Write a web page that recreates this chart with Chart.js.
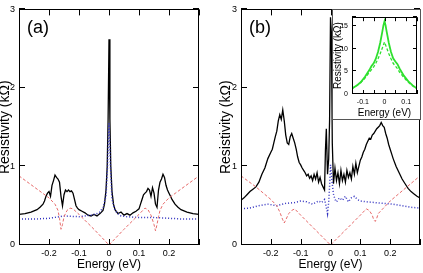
<!DOCTYPE html>
<html>
<head>
<meta charset="utf-8">
<script src="https://cdn.jsdelivr.net/npm/chart.js@4.4.1/dist/chart.umd.min.js"></script>
<style>
  html, body { margin: 0; padding: 0; background: #fff; }
  body { width: 423px; height: 273px; position: relative; overflow: hidden; }
  .box { position: absolute; }
</style>
</head>
<body>
<div class="box" style="left:-3px;top:0;width:215px;height:273px"><canvas id="ca" width="215" height="273"></canvas></div>
<div class="box" style="left:212px;top:0;width:211px;height:273px"><canvas id="cb" width="211" height="273"></canvas></div>
<div class="box" style="left:332px;top:9px;width:89px;height:111px"><canvas id="ci" width="89" height="111"></canvas></div>
<script>
// ---------- Panel (a) ----------
const energyA_total = [-0.30,-0.28,-0.26,-0.24,-0.23,-0.22,-0.215,-0.21,-0.205,-0.20,-0.195,-0.19,-0.185,-0.18,-0.175,-0.17,-0.165,-0.16,-0.155,-0.15,-0.145,-0.14,-0.135,-0.13,-0.125,-0.12,-0.115,-0.11,-0.105,-0.10,-0.09,-0.08,-0.07,-0.06,-0.05,-0.04,-0.03,-0.02,-0.015,-0.01,-0.006,-0.003,0,0.003,0.006,0.01,0.015,0.02,0.03,0.04,0.05,0.06,0.07,0.08,0.09,0.10,0.105,0.11,0.115,0.12,0.125,0.13,0.135,0.14,0.145,0.15,0.155,0.16,0.165,0.17,0.175,0.18,0.185,0.19,0.195,0.20,0.205,0.21,0.22,0.23,0.24,0.26,0.28,0.30];
const resA_total = [0.39,0.40,0.42,0.45,0.48,0.52,0.56,0.62,0.66,0.68,0.62,0.76,0.82,0.89,0.86,0.84,0.80,0.62,0.50,0.64,0.70,0.68,0.70,0.68,0.69,0.66,0.58,0.50,0.47,0.45,0.43,0.41,0.38,0.37,0.39,0.37,0.40,0.44,0.52,0.70,1.00,1.60,2.62,1.60,1.00,0.68,0.52,0.45,0.40,0.42,0.38,0.40,0.38,0.41,0.43,0.46,0.52,0.58,0.64,0.66,0.68,0.72,0.70,0.62,0.73,0.66,0.52,0.48,0.70,0.80,0.84,0.90,0.86,0.76,0.70,0.66,0.62,0.58,0.52,0.48,0.45,0.42,0.40,0.39];

const energyA_red = [-0.30,-0.25,-0.20,-0.19,-0.18,-0.17,-0.165,-0.16,-0.155,-0.15,-0.14,-0.13,-0.12,-0.10,-0.05,0,0.05,0.10,0.12,0.13,0.14,0.15,0.155,0.16,0.165,0.17,0.18,0.19,0.20,0.25,0.30];
const resA_red = [0.88,0.74,0.60,0.56,0.52,0.44,0.34,0.20,0.26,0.36,0.44,0.47,0.46,0.39,0.20,0.0,0.20,0.39,0.47,0.45,0.38,0.26,0.18,0.26,0.36,0.44,0.52,0.56,0.60,0.74,0.88];

const energyA_blue = [-0.30,-0.25,-0.20,-0.15,-0.10,-0.06,-0.04,-0.03,-0.02,-0.01,-0.005,0,0.005,0.01,0.02,0.03,0.04,0.06,0.10,0.15,0.20,0.25,0.30];
const resA_blue = [0.33,0.33,0.34,0.37,0.36,0.38,0.40,0.42,0.48,0.62,1.00,1.55,1.00,0.58,0.44,0.40,0.37,0.36,0.35,0.35,0.34,0.33,0.33];

// ---------- Panel (b) ----------
const energyB_total = [-0.30,-0.29,-0.28,-0.27,-0.26,-0.25,-0.24,-0.23,-0.22,-0.21,-0.20,-0.195,-0.19,-0.185,-0.18,-0.175,-0.17,-0.165,-0.16,-0.155,-0.15,-0.145,-0.14,-0.135,-0.13,-0.125,-0.12,-0.115,-0.11,-0.105,-0.10,-0.095,-0.09,-0.085,-0.08,-0.075,-0.07,-0.065,-0.06,-0.055,-0.05,-0.045,-0.04,-0.035,-0.03,-0.025,-0.02,-0.017,-0.014,-0.01,-0.006,-0.003,0,0.003,0.006,0.01,0.015,0.02,0.025,0.03,0.035,0.04,0.045,0.05,0.055,0.06,0.065,0.07,0.075,0.08,0.085,0.09,0.095,0.10,0.105,0.11,0.115,0.12,0.125,0.13,0.135,0.14,0.145,0.15,0.155,0.16,0.165,0.17,0.175,0.18,0.185,0.19,0.195,0.20,0.205,0.21,0.22,0.23,0.24,0.25,0.26,0.27,0.28,0.29,0.30];
const resB_total = [0.57,0.60,0.64,0.68,0.71,0.74,0.80,0.90,0.98,1.10,1.18,1.22,1.30,1.38,1.45,1.58,1.66,1.60,1.72,1.58,1.40,1.30,1.28,1.38,1.42,1.36,1.30,1.22,1.12,1.05,1.02,0.98,0.95,0.92,0.88,0.90,0.85,0.88,0.82,0.90,0.84,0.92,0.80,0.86,0.78,0.74,0.70,1.20,1.48,0.90,1.10,1.60,2.90,2.70,1.30,0.78,0.98,0.82,0.92,0.78,0.95,0.82,0.90,0.80,0.95,0.86,0.92,0.84,1.00,0.90,1.04,0.92,1.00,1.08,1.12,1.18,1.22,1.28,1.32,1.36,1.35,1.40,1.42,1.45,1.48,1.50,1.52,1.56,1.52,1.50,1.42,1.36,1.28,1.22,1.16,1.10,1.00,0.92,0.84,0.78,0.72,0.68,0.65,0.62,0.60];

const energyB_red = [-0.30,-0.25,-0.20,-0.18,-0.17,-0.16,-0.155,-0.15,-0.14,-0.13,-0.12,-0.10,-0.05,0,0.05,0.10,0.12,0.13,0.14,0.145,0.15,0.155,0.16,0.17,0.18,0.20,0.25,0.30];
const resB_red = [0.88,0.74,0.58,0.50,0.42,0.32,0.28,0.32,0.40,0.44,0.46,0.38,0.19,0.0,0.19,0.38,0.46,0.44,0.38,0.32,0.30,0.34,0.40,0.44,0.48,0.56,0.72,0.88];

const energyB_blue = [-0.30,-0.27,-0.24,-0.21,-0.18,-0.15,-0.12,-0.10,-0.08,-0.06,-0.04,-0.03,-0.02,-0.015,-0.01,-0.006,-0.003,0,0.003,0.006,0.01,0.015,0.02,0.03,0.04,0.05,0.06,0.07,0.08,0.09,0.10,0.12,0.15,0.18,0.21,0.24,0.27,0.30];
const resB_blue = [0.46,0.47,0.50,0.52,0.50,0.53,0.54,0.56,0.55,0.52,0.56,0.54,0.58,0.50,0.40,0.55,0.75,1.02,0.90,0.78,0.65,0.58,0.55,0.60,0.57,0.62,0.55,0.60,0.62,0.58,0.56,0.55,0.54,0.53,0.52,0.50,0.48,0.47];

// ---------- Inset ----------
const energyIn_solid = [-0.15,-0.13,-0.11,-0.09,-0.07,-0.06,-0.05,-0.04,-0.03,-0.02,-0.01,-0.005,0,0.005,0.01,0.02,0.03,0.04,0.05,0.06,0.07,0.09,0.11,0.13,0.15];
const resIn_solid = [1.2,1.8,2.6,3.8,5.3,6.2,6.8,7.8,9.3,11.3,13.8,15.2,16.1,15.2,13.8,11.3,9.3,7.9,7.2,6.6,5.6,4.0,2.8,1.9,1.2];
const energyIn_dash = [-0.15,-0.13,-0.11,-0.09,-0.07,-0.06,-0.05,-0.04,-0.03,-0.02,-0.01,0,0.01,0.02,0.03,0.04,0.05,0.06,0.07,0.09,0.11,0.13,0.15];
const resIn_dash = [1.2,1.8,2.5,3.5,4.8,5.4,6.0,6.8,7.8,8.9,10.2,11.5,10.2,8.9,7.8,6.8,6.2,5.6,4.8,3.6,2.6,1.8,1.2];

// axis ticks / labels
const mainXTicks = [-0.2, -0.1, 0, 0.1, 0.2];
const mainYTicks = [0, 1, 2, 3];
const insetXTicks = [-0.1, 0, 0.1];
const insetYTicks = [0, 5, 10, 15];
const xTitle = 'Energy (eV)';
const yTitle = 'Resistivity (kΩ)';

const FONT = "'Liberation Sans', Arial, Helvetica, sans-serif";
const pts = (xs, ys) => xs.map((x, i) => ({x: x, y: ys[i]}));
const near = (v, arr) => arr.some(a => Math.abs(a - v) < 1e-6);
const fmt = v => { const r = Math.round(v * 100) / 100; return r === 0 ? '0' : String(r); };

function frameTicks(tl, label) {
  return {
    id: 'frameTicks',
    afterDraw(chart) {
      const ctx = chart.ctx, a = chart.chartArea;
      ctx.save();
      ctx.strokeStyle = '#000';
      ctx.lineWidth = 1;
      ctx.strokeRect(Math.round(a.left) + 0.5, Math.round(a.top) + 0.5, Math.round(a.right - a.left) - 1, Math.round(a.bottom - a.top) - 1);
      ctx.beginPath();
      chart.scales.x.ticks.forEach(t => {
        const p = Math.round(chart.scales.x.getPixelForValue(t.value)) + 0.5;
        ctx.moveTo(p, a.bottom); ctx.lineTo(p, a.bottom - tl);
        ctx.moveTo(p, a.top); ctx.lineTo(p, a.top + tl);
      });
      chart.scales.y.ticks.forEach(t => {
        const p = Math.round(chart.scales.y.getPixelForValue(t.value)) - 0.5;
        ctx.moveTo(a.left, p); ctx.lineTo(a.left + tl, p);
        ctx.moveTo(a.right, p); ctx.lineTo(a.right - tl, p);
      });
      ctx.stroke();
      if (label) {
        ctx.fillStyle = '#000';
        ctx.font = '18px ' + FONT;
        ctx.textAlign = 'left';
        ctx.textBaseline = 'middle';
        ctx.fillText(label, a.left + 8, a.top + 19);
      }
      ctx.restore();
    }
  };
}

function mainChart(id, label, total, red, blue, yWidth, titlePad, padRight) {
  return new Chart(document.getElementById(id), {
    type: 'line',
    data: {
      datasets: [
        { data: red, borderColor: '#e66a6a', borderWidth: 1, borderDash: [3, 2], pointRadius: 0, fill: false },
        { data: blue, borderColor: '#3232c0', borderWidth: 1.5, borderDash: [1, 2], pointRadius: 0, fill: false },
        { data: total, borderColor: '#000', borderWidth: 1.3, pointRadius: 0, fill: false }
      ]
    },
    options: {
      responsive: false, animation: false, devicePixelRatio: 1,
      layout: { padding: { left: 0, right: padRight, top: 9, bottom: 0 } },
      plugins: { legend: { display: false }, tooltip: { enabled: false } },
      elements: { line: { tension: 0 } },
      scales: {
        x: {
          type: 'linear', min: -0.3, max: 0.3,
          grid: { display: false, drawTicks: false }, border: { display: false },
          ticks: { stepSize: 0.1, padding: 3, color: '#000', font: { size: 9, family: FONT }, maxRotation: 0, autoSkip: false,
                   callback: v => near(v, mainXTicks) ? fmt(v) : '' },
          title: { display: true, text: xTitle, color: '#000', font: { size: 12, family: FONT }, padding: { top: 0, bottom: 1 } },
          afterFit: s => { s.height = 28; }
        },
        y: {
          type: 'linear', min: 0, max: 3,
          grid: { display: false, drawTicks: false }, border: { display: false },
          ticks: { stepSize: 1, padding: 4, color: '#000', font: { size: 9, family: FONT },
                   callback: v => near(v, mainYTicks) ? fmt(v) : '' },
          title: { display: true, text: yTitle, color: '#000', font: { size: 14, family: FONT }, padding: { top: titlePad, bottom: 0 } },
          afterFit: s => { s.width = yWidth; }
        }
      }
    },
    plugins: [frameTicks(6, label)]
  });
}

mainChart('ca', '(a)', pts(energyA_total, resA_total), pts(energyA_red, resA_red), pts(energyA_blue, resA_blue), 22, 0, 13);
mainChart('cb', '(b)', pts(energyB_total, resB_total), pts(energyB_red, resB_red), pts(energyB_blue, resB_blue), 29, 6, 2);

// inset
new Chart(document.getElementById('ci'), {
  type: 'line',
  data: {
    datasets: [
      { data: pts(energyIn_dash, resIn_dash), borderColor: '#2ee02e', borderWidth: 1.3, borderDash: [3, 2], pointRadius: 0, fill: false },
      { data: pts(energyIn_solid, resIn_solid), borderColor: '#2ee02e', borderWidth: 1.8, pointRadius: 0, fill: false }
    ]
  },
  options: {
    responsive: false, animation: false, devicePixelRatio: 1,
    layout: { padding: { left: 0, right: 2, top: 4, bottom: 0 } },
    plugins: { legend: { display: false }, tooltip: { enabled: false } },
    elements: { line: { tension: 0 } },
    scales: {
      x: {
        type: 'linear', min: -0.15, max: 0.15,
        grid: { display: false, drawTicks: false }, border: { display: false },
        ticks: { stepSize: 0.05, padding: 4, color: '#000', font: { size: 7, family: FONT }, maxRotation: 0, autoSkip: false,
                 callback: v => near(v, insetXTicks) ? fmt(v) : '' },
        title: { display: true, text: xTitle, color: '#000', font: { size: 10, family: FONT }, padding: { top: 0, bottom: 1 } },
        afterFit: s => { s.height = 26; }
      },
      y: {
        type: 'linear', min: 0, max: 17,
        grid: { display: false, drawTicks: false }, border: { display: false },
        ticks: { stepSize: 5, padding: 4, color: '#000', font: { size: 7, family: FONT },
                 callback: v => near(v, insetYTicks) ? fmt(v) : '' },
        title: { display: true, text: yTitle, color: '#000', font: { size: 10, family: FONT }, padding: { top: 0.5, bottom: 0 } },
        afterFit: s => { s.width = 20; }
      }
    }
  },
  plugins: [{
    id: 'insetBg',
    beforeDraw(chart) {
      const ctx = chart.ctx;
      ctx.save();
      ctx.fillStyle = '#fff';
      ctx.fillRect(0, 0, chart.width, chart.height);
      ctx.strokeStyle = '#555';
      ctx.lineWidth = 1;
      ctx.strokeRect(0.5, 0.5, chart.width - 1, chart.height - 1);
      ctx.restore();
    }
  }, frameTicks(4, null)]
});
</script>
</body>
</html>
